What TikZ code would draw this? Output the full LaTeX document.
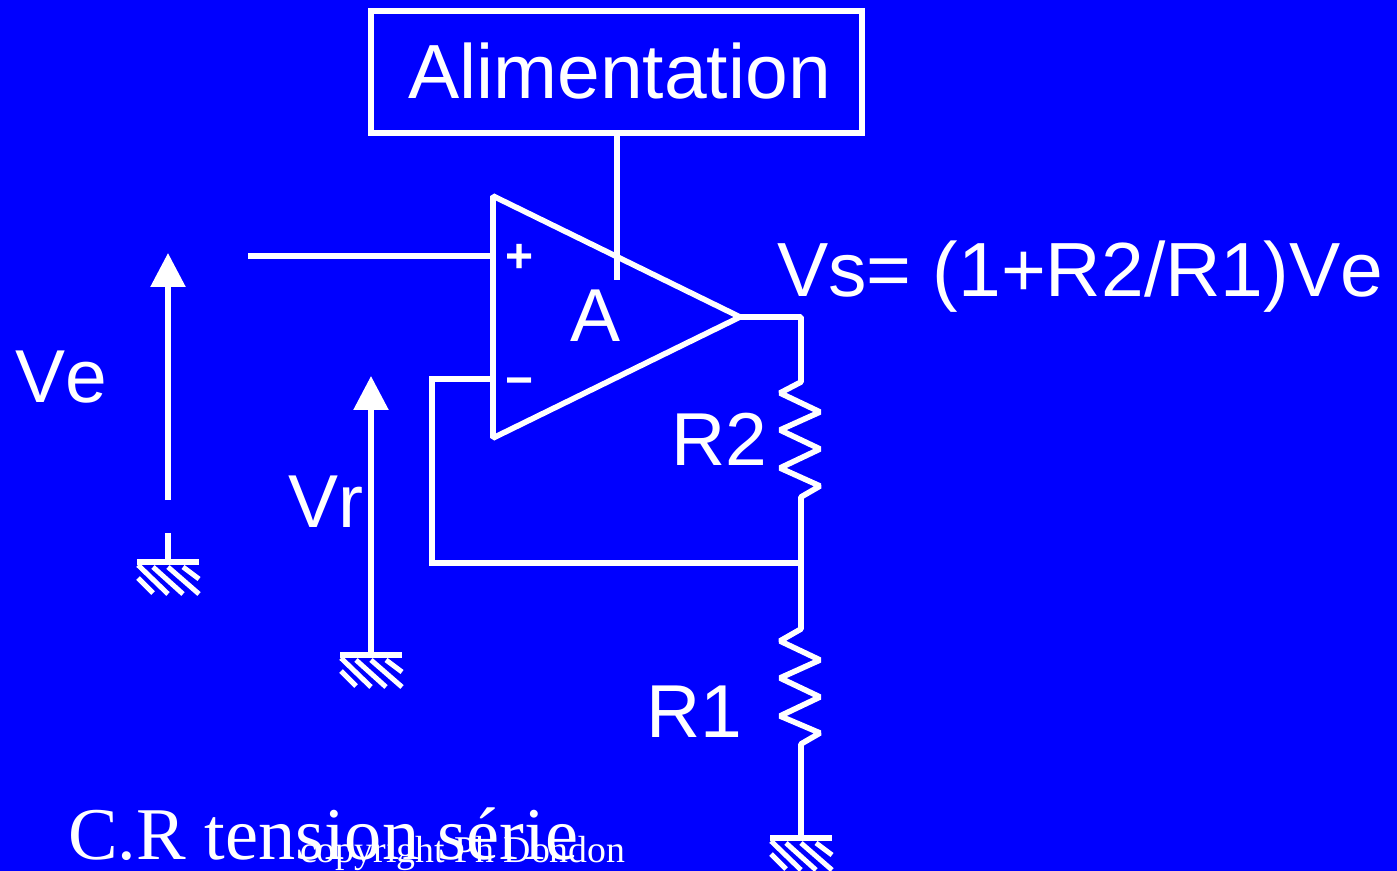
\documentclass[tikz,border=0pt]{standalone}
\usepackage{fontspec}
\setmainfont[Kerning=Off]{Liberation Serif}
\setsansfont[Kerning=Off]{Liberation Sans}
\usetikzlibrary{arrows.meta}
\definecolor{crblue}{RGB}{0, 0, 255}
\tikzset{
    wire/.style={white, line width=2.8pt},
    hatch/.style={white, line width=2.5pt},
    crlabel/.style={white, anchor=base west, inner sep=0pt, outer sep=0pt, font=\sffamily\fontsize{37.5}{40}\selectfont},
    crtitle/.style={white, anchor=base west, inner sep=0pt, outer sep=0pt, font=\rmfamily\fontsize{37}{40}\selectfont},
    crsign/.style={white, inner sep=0pt, outer sep=0pt, font=\sffamily\bfseries\fontsize{24}{26}\selectfont},
    voltarrow/.style={wire, -{Triangle[length=17pt,width=17pt]}}
}
\begin{document}
\begin{tikzpicture}[x=0.5pt, y=-0.5pt]
\useasboundingbox[fill=crblue] (0,0) rectangle (1397,871);
% Supply box and amplifier corners
\node[wire, draw, text=white, inner sep=0pt, outer sep=0pt, minimum width=245.5pt, minimum height=61pt, text depth=1pt,
    font=\sffamily\fontsize{38.4}{40}\selectfont] (alim) at (616.5,72) {\hspace{3pt}Alimentation};
\coordinate (optop) at (493,196);
\coordinate (opbot) at (493,438);
\coordinate (opout) at (740,317);
\coordinate (inplus) at (493,256);
\coordinate (inminus) at (493,379);
\coordinate (stemend) at (617,280);
\coordinate (vefree) at (248,256);
\coordinate (outcorner) at (801,317);
\coordinate (fbnode) at (801,563);
\coordinate (fbleft) at (432,563);
\coordinate (fbtop) at (432,379);
\draw[wire, line join=bevel] (optop) -- (opbot) -- (opout) -- cycle;
\draw[wire] (alim.south -| stemend) -- (stemend);
\draw[wire] (vefree) -- (inplus);
\draw[wire] (inminus) -- (fbtop) -- (fbleft) -- (fbnode);
% Grounds
\foreach \i/\gx/\gy in {1/168/562, 2/371/655, 3/801/838} {
    \coordinate (gnd\i) at (\gx,\gy);
    \draw[wire] (\gx-31,\gy) -- (\gx+31,\gy);
    \draw[hatch] (\gx-30,\gy+3) -- ++(30,29);
    \draw[hatch] (\gx-15,\gy+5) -- ++(30,27);
    \draw[hatch] (\gx,\gy+5) -- ++(31,27);
    \draw[hatch] (\gx+15,\gy+5) -- ++(16,12);
    \draw[hatch] (\gx-30,\gy+16) -- ++(15,15);
}
% Resistors and output
\draw[wire, line join=bevel] (opout) -- (outcorner) -- (801,382) -- (780,393) -- (820,412) -- (780,430) -- (820,449)
    -- (780,468) -- (820,486) -- (801,497) -- (fbnode) -- (801,629) -- (780,641) -- (820,660) -- (780,678)
    -- (820,697) -- (780,716) -- (820,733) -- (801,744) -- (gnd3);
% Voltage arrows
\coordinate (vetip) at (168,253);
\coordinate (vrtip) at (371,376);
\coordinate (vebase) at (168,500);
\coordinate (vestub) at (168,533);
\draw[voltarrow] (vebase) -- (vetip);
\draw[wire] (vestub) -- (gnd1);
\draw[voltarrow] (gnd2) -- (vrtip);
% Labels
\node[crsign] (plus) at (520,258) {+};
\node[crsign] (minus) at (520,387) {−};
\node[crlabel] (gain) at (570,342) {A};
\node[crlabel, font=\sffamily\fontsize{38.4}{40}\selectfont] (vs) at (777,297) {Vs= (1+R2/R1)Ve};
\node[crlabel] (ve) at (15,403) {Ve};
\node[crlabel] (vr) at (288,527) {Vr};
\node[crlabel] (rtwo) at (671,466) {R2};
\node[crlabel] (rone) at (646,737) {R1};
\node[crtitle, font=\rmfamily\fontsize{37.2}{40}\selectfont] (title) at (68,859) {C.R tension série};
\node[crtitle, font=\rmfamily\fontsize{18.9}{22}\selectfont] (copy) at (300,862) {copyright Ph Dondon};
\end{tikzpicture}
\end{document}
